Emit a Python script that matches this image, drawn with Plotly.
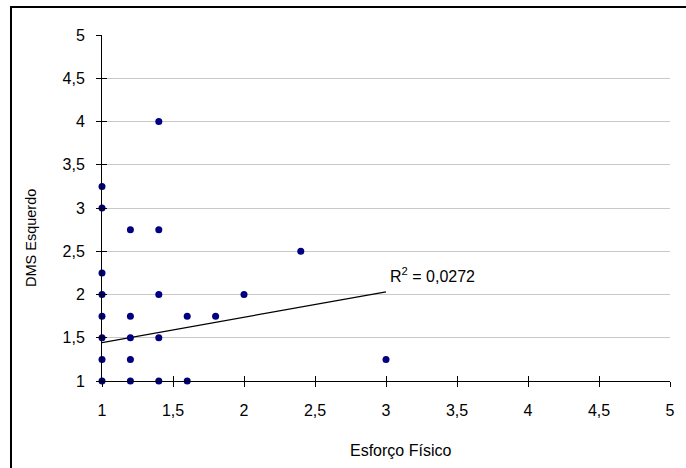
import plotly.graph_objects as go

# Scatter data: Esforço Físico (x) vs DMS Esquerdo (y)
esforco_fisico = [1, 1, 1, 1, 1, 1, 1, 1,
                  1.2, 1.2, 1.2, 1.2, 1.2,
                  1.4, 1.4, 1.4, 1.4, 1.4,
                  1.6, 1.6, 1.8, 2.0, 2.4, 3.0]
dms_esquerdo = [1, 1.25, 1.5, 1.75, 2, 2.25, 3, 3.25,
                1, 1.25, 1.5, 1.75, 2.75,
                1, 1.5, 2, 2.75, 4,
                1, 1.75, 1.75, 2, 2.5, 1.25]

# Linear trend line (y = a + b*x) and its coefficient of determination
trend_intercept = 1.150
trend_slope = 0.2935
trend_x = [1, 3]
r_squared = "0,0272"

tick_vals = [1, 1.5, 2, 2.5, 3, 3.5, 4, 4.5, 5]

W, H = 686, 468
L, R, T, B = 102, 16, 35, 87
pw, ph = W - L - R, H - T - B

def px_x(p):
    return (p - L) / pw

def px_y(p):
    return (H - B - p) / ph

font_main = "Liberation Sans, Arial, sans-serif"

fig = go.Figure()

fig.add_trace(go.Scatter(
    x=trend_x,
    y=[trend_intercept + trend_slope * v for v in trend_x],
    mode="lines",
    line=dict(color="black", width=1.3),
    hoverinfo="skip",
    showlegend=False,
))

fig.add_trace(go.Scatter(
    x=esforco_fisico, y=dms_esquerdo,
    mode="markers",
    marker=dict(color="#000080", size=7, line=dict(width=0)),
    cliponaxis=False,
    showlegend=False,
))

# invisible trace so the overlay axes (inner half of the cross ticks) render
fig.add_trace(go.Scatter(x=[1], y=[1], xaxis="x2", yaxis="y2",
                         mode="markers", marker=dict(opacity=0),
                         hoverinfo="skip", showlegend=False))

axis_common = dict(range=[1, 5], tickvals=tick_vals, zeroline=False)

fig.update_layout(
    width=W, height=H,
    margin=dict(l=L, r=R, t=T, b=B),
    paper_bgcolor="white", plot_bgcolor="white",
    separators=", ",
    font=dict(family=font_main, size=16, color="black"),
    xaxis=dict(**axis_common, showgrid=False, showline=True, linecolor="black",
               linewidth=1, ticks="outside", ticklen=5, tickcolor="black",
               tickwidth=1, ticklabelstandoff=10,
               tickfont=dict(size=16)),
    yaxis=dict(**axis_common, showgrid=True, gridcolor="#c8c8c8", gridwidth=1,
               showline=True, linecolor="black", linewidth=1,
               ticks="outside", ticklen=5, tickcolor="black", tickwidth=1,
               ticklabelstandoff=8, tickfont=dict(size=16)),
    xaxis2=dict(**axis_common, overlaying="x", anchor="y2", side="bottom",
                showgrid=False, showline=False, showticklabels=False,
                ticks="inside", ticklen=5, tickcolor="black", tickwidth=1),
    yaxis2=dict(**axis_common, overlaying="y", anchor="x2", side="left",
                showgrid=False, showline=False, showticklabels=False,
                ticks="inside", ticklen=5, tickcolor="black", tickwidth=1),
    shapes=[dict(type="rect", xref="paper", yref="paper",
                 x0=px_x(11), x1=px_x(W + 10), y0=px_y(H + 10), y1=px_y(7),
                 line=dict(color="black", width=2), fillcolor="rgba(0,0,0,0)",
                 layer="above")],
    annotations=[
        dict(text="Esforço Físico", xref="paper", yref="paper",
             x=px_x(400), y=px_y(450), xanchor="center", yanchor="middle",
             showarrow=False, font=dict(size=16)),
        dict(text="DMS Esquerdo", xref="paper", yref="paper",
             x=px_x(31), y=px_y(238), xanchor="center", yanchor="middle",
             textangle=-90, showarrow=False, font=dict(size=14.5)),
        dict(text="R<sup>2</sup> = " + r_squared, xref="x", yref="y",
             x=3.012, y=2.227, xanchor="left", yanchor="middle",
             showarrow=False, font=dict(size=16)),
    ],
)

fig.write_html("out.html")
